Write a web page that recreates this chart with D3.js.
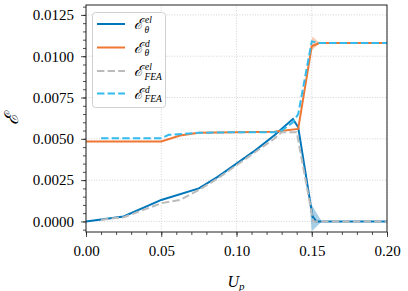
<!DOCTYPE html>
<html>
<head>
<meta charset="utf-8">
<script src="https://cdn.jsdelivr.net/npm/d3@7"></script>
<style>
  body { margin: 0; background: #fff; }
  svg { display: block; }
  svg text { font-family: "Liberation Serif", "Times New Roman", serif; }
</style>
</head>
<body>
<div class="chart"></div>
<script>
// data
const elX   = [0, 0.025, 0.05, 0.075, 0.0875, 0.1, 0.1125, 0.125, 0.1375, 0.141, 0.1505, 0.153, 0.2];
const elY   = [0, 0.0003, 0.0013, 0.0020, 0.0027, 0.0035, 0.0043, 0.0052, 0.0062, 0.0057, 0.0003, 0, 0];
const dX    = [0, 0.05, 0.0625, 0.075, 0.1, 0.125, 0.141, 0.15, 0.155, 0.2];
const dY    = [0.00484, 0.00484, 0.0052, 0.00536, 0.0054, 0.00543, 0.0056, 0.0106, 0.0108, 0.0108];
const elFeaX = [0.01, 0.025, 0.05, 0.0625, 0.075, 0.0875, 0.1, 0.1125, 0.125, 0.13, 0.14, 0.151, 0.2];
const elFeaY = [0.0001, 0.00025, 0.0011, 0.0013, 0.0019, 0.0026, 0.0034, 0.0042, 0.0050, 0.0054, 0.0054, 0, 0];
const dFeaX = [0.01, 0.05, 0.055, 0.075, 0.1, 0.125, 0.13, 0.1375, 0.141, 0.15, 0.155, 0.2];
const dFeaY = [0.00504, 0.00504, 0.00524, 0.00536, 0.0054, 0.0054, 0.0055, 0.0060, 0.0065, 0.0109, 0.0108, 0.0108];

// spread bands
const elBandX  = [0.1487, 0.150, 0.1567];
const elBandLo = [0.00095, -0.0006, 0];
const elBandHi = [0.00095, 0.0010, 0];
const dBandX   = [0.148, 0.1505, 0.1555];
const dBandLo  = [0.0101, 0.0104, 0.0108];
const dBandHi  = [0.0101, 0.0112, 0.0108];

const xTicks = [0, 0.05, 0.10, 0.15, 0.20];
const yTicks = [0, 0.0025, 0.005, 0.0075, 0.01, 0.0125];

const width = 408, height = 291;
const svg = d3.select(".chart").append("svg")
    .attr("width", width).attr("height", height)
    .attr("viewBox", [0, 0, width, height]);

const x = d3.scaleLinear().domain([0, 0.2]).range([86, 387]);
const y = d3.scaleLinear().domain([-0.00064, 0.0131]).range([232, 5]);

//grid
svg.append("g").selectAll("line").data(xTicks).join("line")
    .attr("x1", d => x(d)).attr("x2", d => x(d))
    .attr("y1", y.range()[0]).attr("y2", y.range()[1])
    .attr("stroke", "#c8c8c8").attr("stroke-width", 0.8).attr("stroke-dasharray", "1,1.6");
svg.append("g").selectAll("line").data(yTicks).join("line")
    .attr("y1", d => y(d)).attr("y2", d => y(d))
    .attr("x1", x.range()[0]).attr("x2", x.range()[1])
    .attr("stroke", "#c8c8c8").attr("stroke-width", 0.8).attr("stroke-dasharray", "1,1.6");

const zip = (xs, ys) => xs.map((v, i) => [v, ys[i]]);
const line = d3.line().x(d => x(d[0])).y(d => y(d[1]));
const area = d3.area().x(d => x(d[0])).y0(d => y(d[1])).y1(d => y(d[2]));

//bands
svg.append("path")
    .datum(elBandX.map((v, i) => [v, elBandLo[i], elBandHi[i]]))
    .attr("d", area).attr("fill", "#0077BB").attr("opacity", 0.35);
svg.append("path")
    .datum(dBandX.map((v, i) => [v, dBandLo[i], dBandHi[i]]))
    .attr("d", area).attr("fill", "#EE7733").attr("opacity", 0.35);

const series = [
    {xs: elX, ys: elY, color: "#0077BB", dash: null},
    {xs: dX, ys: dY, color: "#EE7733", dash: null},
    {xs: elFeaX, ys: elFeaY, color: "#BBBBBB", dash: "7.4,3.2"},
    {xs: dFeaX, ys: dFeaY, color: "#33BBEE", dash: "7.4,3.2"}
];

series.forEach(s => {
    svg.append("path")
        .datum(zip(s.xs, s.ys))
        .attr("d", line)
        .attr("fill", "none")
        .attr("stroke", s.color)
        .attr("stroke-width", 2)
        .attr("stroke-dasharray", s.dash);
});

//axes
svg.append("g").attr("transform", `translate(0,${y.range()[0]})`)
    .call(d3.axisBottom(x).tickValues(xTicks).tickFormat(d3.format(".2f")).tickSize(5).tickPadding(8));
svg.append("g").attr("transform", `translate(0,${y.range()[0]})`)
    .call(d3.axisBottom(x).tickValues(d3.range(0, 0.2001, 0.01)).tickFormat("").tickSize(3))
    .call(g => g.select(".domain").remove());
svg.append("g").attr("transform", `translate(${x.range()[0]},0)`)
    .call(d3.axisLeft(y).tickValues(yTicks).tickFormat(d3.format(".4f")).tickSize(5).tickPadding(7));
svg.append("g").attr("transform", `translate(${x.range()[0]},0)`)
    .call(d3.axisLeft(y).tickValues(d3.range(-0.0005, 0.01301, 0.0005)).tickFormat("").tickSize(3))
    .call(g => g.select(".domain").remove());

svg.selectAll(".tick text")
    .style("font-size", "15px")
    .style("font-family", '"Liberation Serif", serif')
    .style("fill", "#000");
svg.selectAll(".tick line").attr("stroke", "#222").attr("stroke-width", 0.8);

//frame
svg.append("rect")
    .attr("x", x.range()[0]).attr("y", y.range()[1])
    .attr("width", x.range()[1] - x.range()[0]).attr("height", y.range()[0] - y.range()[1])
    .attr("fill", "none").attr("stroke", "#222").attr("stroke-width", 1);
svg.selectAll(".domain").remove();

//labels
const xl = svg.append("text").attr("x", 236).attr("y", 287)
    .attr("text-anchor", "middle").style("font-size", "16px").style("font-style", "italic");
xl.append("tspan").text("U");
xl.append("tspan").style("font-size", "11px").attr("dy", 3).text("p");

svg.append("text")
    .attr("transform", "translate(18,119) rotate(-90)")
    .attr("text-anchor", "middle").style("font-size", "19px").style("font-style", "italic")
    .text("ℰ");

//legend
const legend = svg.append("g");
legend.append("rect")
    .attr("x", 92.5).attr("y", 12.5).attr("width", 73).attr("height", 95).attr("rx", 3)
    .attr("fill", "#fff").attr("fill-opacity", 0.85)
    .attr("stroke", "#d0d0d0").attr("stroke-width", 1);

const legendItems = [
    {sup: "el", sub: "θ"},
    {sup: "d", sub: "θ"},
    {sup: "el", sub: "FEA"},
    {sup: "d", sub: "FEA"}
];
const legendY = [24, 47.5, 71, 93.5];

legendItems.forEach((it, i) => {
    const s = series[i];
    const ly = legendY[i];
    legend.append("line")
        .attr("x1", 97).attr("x2", 125).attr("y1", ly).attr("y2", ly)
        .attr("stroke", s.color).attr("stroke-width", 2)
        .attr("stroke-dasharray", s.dash);
    const t = legend.append("g").style("font-style", "italic");
    t.append("text").attr("x", 134).attr("y", ly + 5).style("font-size", "15px").text("ℰ");
    t.append("text").attr("x", 145).attr("y", ly - 1).style("font-size", "9.5px").text(it.sup);
    t.append("text").attr("x", 144.5).attr("y", ly + 8.5).style("font-size", "9.5px").text(it.sub);
});
</script>
</body>
</html>
